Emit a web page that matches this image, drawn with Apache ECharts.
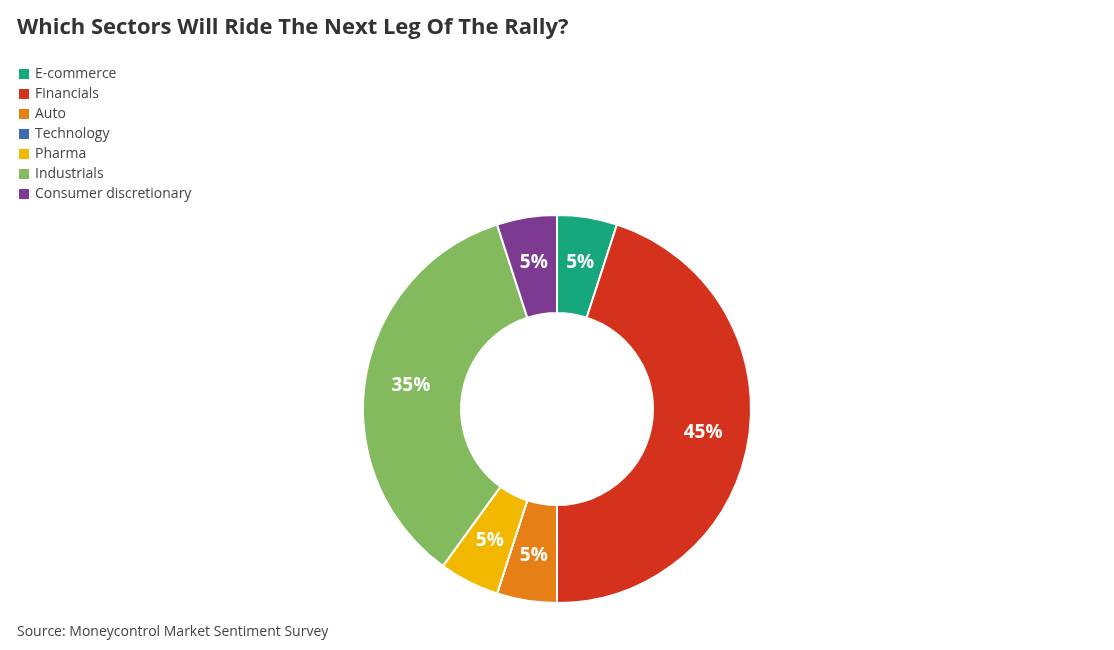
<!DOCTYPE html>
<html>
<head>
<meta charset="utf-8">
<script src="https://cdn.jsdelivr.net/npm/echarts@6/dist/echarts.min.js"></script>
<style>
  html, body { margin: 0; padding: 0; background: #fff; }
  #chart { width: 1114px; height: 650px; }
</style>
</head>
<body>
<div id="chart"></div>
<script>
const sectors = ["E-commerce", "Financials", "Auto", "Technology", "Pharma", "Industrials", "Consumer discretionary"];
const shares = [5, 45, 5, 0, 5, 35, 5];
const colors = ["#17a77d", "#d5321d", "#e57f16", "#3b6bb5", "#f2b800", "#82ba5d", "#7c3b91"];

const chart = echarts.init(document.querySelector("#chart"));
const font = "'Open Sans', 'Noto Sans', sans-serif";

chart.setOption({
  animation: false,
  title: [
    {
      text: "Which Sectors Will Ride The Next Leg Of The Rally?",
      left: 12,
      top: 12,
      textStyle: { fontFamily: font, fontSize: 22, fontWeight: "bold", color: "#333" },
    },
    {
      text: "Source: Moneycontrol Market Sentiment Survey",
      left: 12,
      top: 620,
      textStyle: { fontFamily: font, fontSize: 14, fontWeight: "normal", color: "#444" },
    },
  ],
  legend: {
    orient: "vertical",
    left: 12,
    top: 62,
    itemWidth: 12,
    itemHeight: 12,
    itemGap: 6,
    icon: "rect",
    textStyle: { fontFamily: font, fontSize: 14, color: "#444" },
    data: sectors,
  },
  series: [
    {
      type: "pie",
      radius: [96, 194],
      center: [557, 409],
      startAngle: 90,
      clockwise: true,
      itemStyle: { borderColor: "#fff", borderWidth: 2 },
      label: {
        position: "inside",
        color: "#fff",
        fontFamily: font,
        fontSize: 19,
        fontWeight: "bold",
        formatter: (p) => (p.value ? p.value + "%" : ""),
      },
      labelLine: { show: false },
      data: sectors.map((name, i) => ({ name, value: shares[i], itemStyle: { color: colors[i] } })),
    },
  ],
});
</script>
</body>
</html>
